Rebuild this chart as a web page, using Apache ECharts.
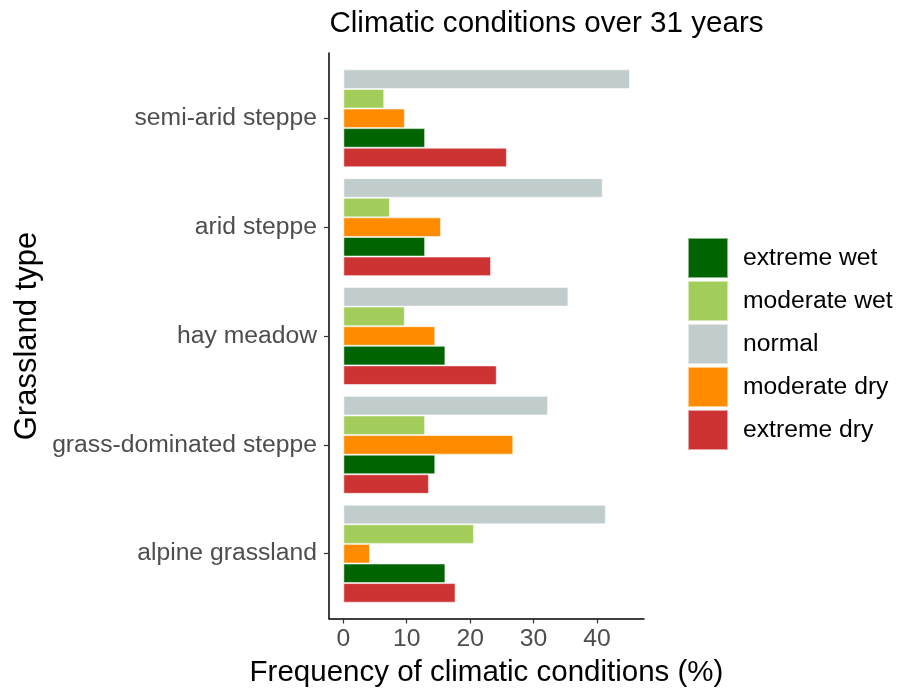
<!DOCTYPE html>
<html>
<head>
<meta charset="utf-8">
<script src="https://cdn.jsdelivr.net/npm/echarts@6/dist/echarts.min.js"></script>
<style>
  html, body { margin: 0; padding: 0; background: #fff; }
  #chart { width: 907px; height: 689px; }
</style>
</head>
<body>
<div id="chart"></div>
<script>
// Grassland types, top to bottom
const grasslands = ['semi-arid steppe', 'arid steppe', 'hay meadow', 'grass-dominated steppe', 'alpine grassland'];

// Frequency (%) of each climatic condition per grassland type
const normal      = [45.2, 40.9, 35.5, 32.3, 41.4];
const moderateWet = [6.45, 7.35, 9.7, 12.9, 20.6];
const moderateDry = [9.7, 15.4, 14.5, 26.8, 4.2];
const extremeWet  = [12.9, 12.9, 16.1, 14.5, 16.1];
const extremeDry  = [25.8, 23.3, 24.2, 13.5, 17.7];

const xTicks = [0, 10, 20, 30, 40];
const legendOrder = ['extreme wet', 'moderate wet', 'normal', 'moderate dry', 'extreme dry'];

const FONT = 'Liberation Sans, Arial, sans-serif';
const X_MIN = -2.26, X_MAX = 47.42;

const seriesDefs = [
  { name: 'normal',       data: normal,      color: '#C1CDCD' },
  { name: 'moderate wet', data: moderateWet, color: '#A2CD5A' },
  { name: 'moderate dry', data: moderateDry, color: '#FF8C00' },
  { name: 'extreme wet',  data: extremeWet,  color: '#006400' },
  { name: 'extreme dry',  data: extremeDry,  color: '#CD3333' }
];

const chart = echarts.init(document.getElementById('chart'), null, { renderer: 'canvas' });

chart.setOption({
  animation: false,
  backgroundColor: '#ffffff',
  grid: [
    // bar area (category bands)
    { left: 329, right: 263, top: 63.9, bottom: 80.9, containLabel: false },
    // axis frame (includes the discrete-axis padding)
    { left: 329, right: 263, top: 53, bottom: 70.5, containLabel: false }
  ],
  legend: {
    orient: 'vertical',
    left: 687,
    top: 237,
    padding: 0,
    itemWidth: 40,
    itemHeight: 40,
    itemGap: 1,
    icon: 'rect',
    data: legendOrder,
    textStyle: { fontFamily: FONT, fontSize: 24.7, color: '#000', padding: [0, 0, 0, 10] }
  },
  xAxis: [
    { type: 'value', gridIndex: 0, min: X_MIN, max: X_MAX, show: false },
    {
      type: 'value', gridIndex: 1, min: X_MIN, max: X_MAX,
      splitLine: { show: false },
      axisLine: { show: true, onZero: false, lineStyle: { color: '#000', width: 1.5 } },
      axisTick: { show: true, length: 5, customValues: xTicks, lineStyle: { color: '#333', width: 1.2 } },
      axisLabel: { customValues: xTicks, fontFamily: FONT, fontSize: 24.7, color: '#4d4d4d', margin: 8 }
    }
  ],
  yAxis: [
    {
      type: 'category', gridIndex: 0, data: grasslands, inverse: true,
      axisLine: { show: false, onZero: false },
      axisTick: { show: true, alignWithLabel: true, length: 5, lineStyle: { color: '#333', width: 1.2 } },
      axisLabel: { fontFamily: FONT, fontSize: 24.7, color: '#4d4d4d', margin: 12 }
    },
    {
      type: 'value', gridIndex: 1, min: 0, max: 1,
      splitLine: { show: false },
      axisTick: { show: false },
      axisLabel: { show: false },
      axisLine: { show: true, onZero: false, lineStyle: { color: '#000', width: 1.5 } }
    }
  ],
  series: seriesDefs.map(s => ({
    name: s.name,
    type: 'bar',
    xAxisIndex: 0,
    yAxisIndex: 0,
    data: s.data,
    barGap: '0%',
    barCategoryGap: '10%',
    itemStyle: { color: s.color, borderColor: 'rgba(255,255,255,0.55)', borderWidth: 1 }
  })),
  graphic: [
    {
      type: 'text', x: 546.5, y: 24,
      style: { text: 'Climatic conditions over 31 years', font: '29.6px ' + FONT, fill: '#000', textAlign: 'center', textVerticalAlign: 'middle' }
    },
    {
      type: 'text', x: 486.5, y: 673,
      style: { text: 'Frequency of climatic conditions (%)', font: '29.5px ' + FONT, fill: '#000', textAlign: 'center', textVerticalAlign: 'middle' }
    },
    {
      type: 'text', x: 27, y: 336, rotation: Math.PI / 2,
      style: { text: 'Grassland type', font: '31px ' + FONT, fill: '#000', textAlign: 'center', textVerticalAlign: 'middle' }
    }
  ]
});
</script>
</body>
</html>
